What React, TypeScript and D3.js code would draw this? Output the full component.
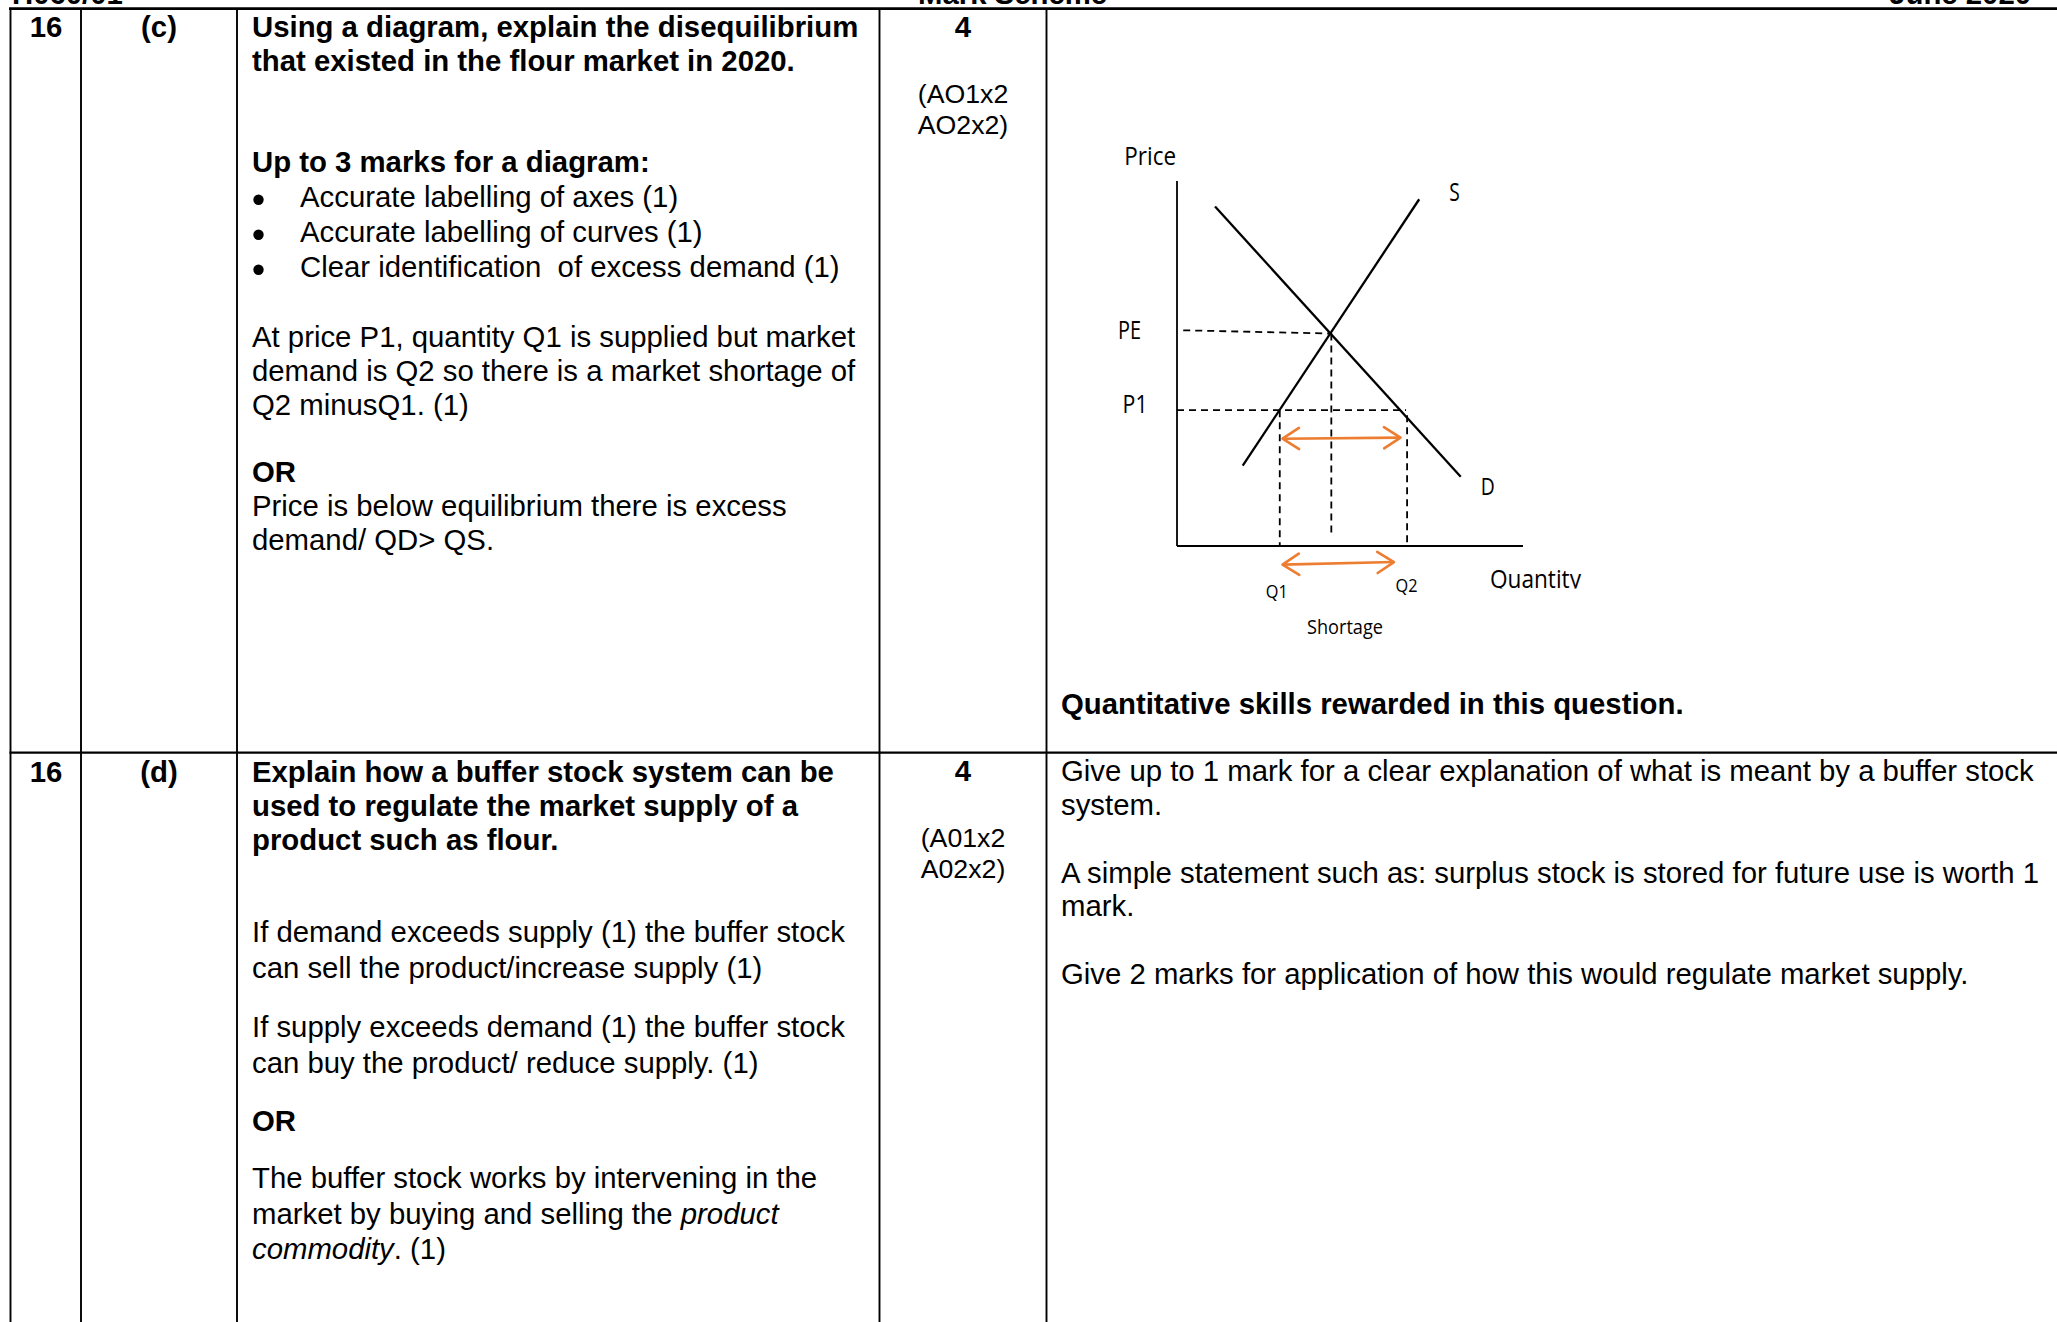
import * as d3 from 'd3'

// ---- diagram values (quantity and price, both on a 0-100 scale) ----
const QTY_DOMAIN: [number, number] = [0, 100]
const PRICE_DOMAIN: [number, number] = [0, 100]
const SUPPLY = [{ q: 19, p: 22 }, { q: 70, p: 95 }]
const DEMAND = [{ q: 11, p: 93 }, { q: 82, p: 19 }]
const EQUILIBRIUM = { q: 44.6, p: 58.2 }
const P1 = 37.2
const Q1 = 29.7
const Q2 = 66.5
const PE_GUIDE_START = { q: 1.8, p: 59.1 }
const EQ_GUIDE_BOTTOM = 2.3
const P1_GUIDE_END = 66.2
const Q2_GUIDE_TOP = 35.8
const SHORTAGE_ARROWS = [
  [{ q: 30.5, p: 29.4 }, { q: 64.6, p: 29.7 }],
  [{ q: 30.5, p: -5.1 }, { q: 62.7, p: -4.4 }],
]

// ---- table text ----
const HEADER = ['H060/01', 'Mark Scheme', 'June 2020']
const C_NUM = ['16', '(c)']
const C_QUESTION = ['Using a diagram, explain the disequilibrium', 'that existed in the flour market in 2020.']
const C_DIAGRAM_HEAD = 'Up to 3 marks for a diagram:'
const C_BULLETS = [
  'Accurate labelling of axes (1)',
  'Accurate labelling of curves (1)',
  'Clear identification  of excess demand (1)',
]
const C_ANSWER = [
  'At price P1, quantity Q1 is supplied but market',
  'demand is Q2 so there is a market shortage of',
  'Q2 minusQ1. (1)',
]
const C_ALT = ['Price is below equilibrium there is excess', 'demand/ QD> QS.']
const C_MARKS = ['4', '(AO1x2', 'AO2x2)']
const C_NOTE = 'Quantitative skills rewarded in this question.'

const D_NUM = ['16', '(d)']
const D_QUESTION = [
  'Explain how a buffer stock system can be',
  'used to regulate the market supply of a',
  'product such as flour.',
]
const D_ANSWER_1 = ['If demand exceeds supply (1) the buffer stock', 'can sell the product/increase supply (1)']
const D_ANSWER_2 = ['If supply exceeds demand (1) the buffer stock', 'can buy the product/ reduce supply. (1)']
const D_ALT = [
  [{ t: 'The buffer stock works by intervening in the' }],
  [{ t: 'market by buying and selling the ' }, { t: 'product', italic: true }],
  [{ t: 'commodity', italic: true }, { t: '. (1)' }],
]
const D_MARKS = ['4', '(A01x2', 'A02x2)']
const D_GUIDANCE = [
  ['Give up to 1 mark for a clear explanation of what is meant by a buffer stock', 'system.'],
  ['A simple statement such as: surplus stock is stored for future use is worth 1', 'mark.'],
  ['Give 2 marks for application of how this would regulate market supply.'],
]

const W = 2057
const H = 1322
const ARIAL = 'Liberation Sans, Arial, sans-serif'
const CAL = '"Open Sans", sans-serif'
const FS = 29.33
const ORANGE = '#ED7D31'

function Lines({ x, y, step, lines, bold = false, anchor = 'start', size = FS }: any) {
  return (
    <g>
      {lines.map((l: string, i: number) => (
        <text
          key={i}
          x={x}
          y={y + i * step}
          fontFamily={ARIAL}
          fontSize={size}
          fontWeight={bold ? 'bold' : 'normal'}
          textAnchor={anchor}
          style={{ whiteSpace: 'pre' }}
        >
          {l}
        </text>
      ))}
    </g>
  )
}

export default function App() {
  const x = d3.scaleLinear().domain(QTY_DOMAIN).range([1177, 1523])
  const y = d3.scaleLinear().domain(PRICE_DOMAIN).range([546, 181])
  const line = d3
    .line<{ q: number; p: number }>()
    .x((d) => x(d.q))
    .y((d) => y(d.p))

  const guides = [
    [PE_GUIDE_START, EQUILIBRIUM],
    [EQUILIBRIUM, { q: EQUILIBRIUM.q, p: EQ_GUIDE_BOTTOM }],
    [{ q: 0, p: P1 }, { q: P1_GUIDE_END, p: P1 }],
    [{ q: Q1, p: P1 }, { q: Q1, p: 0 }],
    [{ q: Q2, p: Q2_GUIDE_TOP }, { q: Q2, p: 0 }],
  ]

  const colLines = [10.5, 81, 237, 879.5, 1046.5]
  const bulletYs = [207.3, 242.3, 277.3]
  const baseQ = y(0) + 42

  return (
    <svg width={W} height={H} style={{ position: 'absolute', left: 0, top: 0, background: '#fff' }}>
      <defs>
        <marker
          id="chev"
          markerUnits="userSpaceOnUse"
          viewBox="-20 -13 24 26"
          markerWidth={24}
          markerHeight={26}
          refX={0}
          refY={0}
          orient="auto-start-reverse"
          style={{ overflow: 'visible' }}
        >
          <path d="M-16.5,-10.6 L0,0 L-16.5,10.6" fill="none" stroke={ORANGE} strokeWidth={2.6} strokeLinecap="round" strokeLinejoin="round" />
        </marker>
        <clipPath id="qclip">
          <rect x={1480} y={550} width={140} height={baseQ - 550 + 0.6} />
        </clipPath>
      </defs>
      <rect width={W} height={H} fill="#fff" />

      {/* page header, cut at the top edge */}
      <g fontFamily={ARIAL} fontSize={FS} fontWeight="bold">
        <text x={12} y={3.5}>{HEADER[0]}</text>
        <text x={918} y={3.5}>{HEADER[1]}</text>
        <text x={2031} y={3.5} textAnchor="end">{HEADER[2]}</text>
      </g>

      {/* table grid */}
      <line x1={9} x2={W} y1={8.7} y2={8.7} stroke="#000" strokeWidth={2.8} />
      <line x1={9.5} x2={W} y1={752.7} y2={752.7} stroke="#000" strokeWidth={2.2} />
      {colLines.map((cx) => (
        <line key={cx} x1={cx} x2={cx} y1={8} y2={H} stroke="#000" strokeWidth={1.9} />
      ))}

      {/* row 16 (c) */}
      <Lines x={46} y={37.3} step={0} lines={[C_NUM[0]]} bold anchor="middle" />
      <Lines x={159} y={37.3} step={0} lines={[C_NUM[1]]} bold anchor="middle" />
      <Lines x={252} y={37.3} step={34} lines={C_QUESTION} bold />
      <Lines x={252} y={172.3} step={0} lines={[C_DIAGRAM_HEAD]} bold />
      {bulletYs.map((by) => (
        <circle key={by} cx={258.5} cy={by - 7.5} r={5.2} fill="#000" />
      ))}
      <Lines x={300} y={bulletYs[0]} step={35} lines={C_BULLETS} />
      <Lines x={252} y={347} step={34} lines={C_ANSWER} />
      <Lines x={252} y={482.3} step={0} lines={['OR']} bold />
      <Lines x={252} y={516.3} step={34} lines={C_ALT} />
      <Lines x={963} y={37.3} step={0} lines={[C_MARKS[0]]} bold anchor="middle" />
      <Lines x={963} y={103.3} step={31} lines={C_MARKS.slice(1)} anchor="middle" size={26.7} />
      <Lines x={1061} y={714} step={0} lines={[C_NOTE]} bold />

      {/* supply and demand diagram */}
      <g>
        <path d={line([{ q: 0, p: 0 }, { q: 0, p: 100 }]) || ''} stroke="#000" strokeWidth={1.8} fill="none" />
        <path d={line([{ q: 0, p: 0 }, { q: 100, p: 0 }]) || ''} stroke="#000" strokeWidth={1.8} fill="none" />
        {guides.map((g, i) => (
          <path key={i} d={line(g) || ''} stroke="#000" strokeWidth={1.8} strokeDasharray="7 5" fill="none" />
        ))}
        <path d={line(SUPPLY) || ''} stroke="#000" strokeWidth={2.3} fill="none" />
        <path d={line(DEMAND) || ''} stroke="#000" strokeWidth={2.3} fill="none" />
        {SHORTAGE_ARROWS.map((a, i) => (
          <path
            key={i}
            d={line(a) || ''}
            stroke={ORANGE}
            strokeWidth={2.6}
            fill="none"
            markerStart="url(#chev)"
            markerEnd="url(#chev)"
          />
        ))}

        <g fontFamily={CAL} fill="#000">
          <text x={x(0) - 1} y={y(100) - 16} fontSize={26} textAnchor="end" textLength={51.7} lengthAdjust="spacingAndGlyphs">Price</text>
          <text x={x(SUPPLY[1].q) + 30} y={y(SUPPLY[1].p) + 1.5} fontSize={25} textLength={10.5} lengthAdjust="spacingAndGlyphs">S</text>
          <text x={x(DEMAND[1].q) + 20} y={y(DEMAND[1].p) + 18} fontSize={24} textLength={14} lengthAdjust="spacingAndGlyphs">D</text>
          <text x={x(0) - 36} y={y(EQUILIBRIUM.p) + 5.6} fontSize={25} textAnchor="end" textLength={23} lengthAdjust="spacingAndGlyphs">PE</text>
          <text x={x(0) - 29.4} y={y(P1) + 2.4} fontSize={25} textAnchor="end" textLength={25} lengthAdjust="spacingAndGlyphs">P1</text>
          <text x={x(Q1) - 3} y={y(0) + 51.5} fontSize={19} textAnchor="middle" textLength={22} lengthAdjust="spacingAndGlyphs">Q1</text>
          <text x={x(Q2) - 0.5} y={y(0) + 46.4} fontSize={19} textAnchor="middle" textLength={22} lengthAdjust="spacingAndGlyphs">Q2</text>
          <text x={x(100) - 33} y={baseQ} fontSize={25} textLength={91} lengthAdjust="spacingAndGlyphs" clipPath="url(#qclip)">Quantity</text>
          <text x={1345} y={y(0) + 88} fontSize={20.7} textAnchor="middle" textLength={76} lengthAdjust="spacingAndGlyphs">Shortage</text>
        </g>
      </g>

      {/* row 16 (d) */}
      <Lines x={46} y={781.5} step={0} lines={[D_NUM[0]]} bold anchor="middle" />
      <Lines x={159} y={781.5} step={0} lines={[D_NUM[1]]} bold anchor="middle" />
      <Lines x={252} y={781.5} step={34.2} lines={D_QUESTION} bold />
      <Lines x={252} y={941.5} step={36.7} lines={D_ANSWER_1} />
      <Lines x={252} y={1037} step={36.2} lines={D_ANSWER_2} />
      <Lines x={252} y={1131} step={0} lines={['OR']} bold />
      {D_ALT.map((segs, i) => (
        <text key={i} x={252} y={1188 + i * 35.6} fontFamily={ARIAL} fontSize={FS} style={{ whiteSpace: 'pre' }}>
          {segs.map((s: any, j: number) => (
            <tspan key={j} fontStyle={s.italic ? 'italic' : 'normal'}>{s.t}</tspan>
          ))}
        </text>
      ))}
      <Lines x={963} y={780.5} step={0} lines={[D_MARKS[0]]} bold anchor="middle" />
      <Lines x={963} y={846.5} step={31} lines={D_MARKS.slice(1)} anchor="middle" size={26.7} />
      {D_GUIDANCE.map((para, i) => (
        <Lines key={i} x={1061} y={781 + i * 101.5} step={33.7} lines={para} />
      ))}
    </svg>
  )
}
